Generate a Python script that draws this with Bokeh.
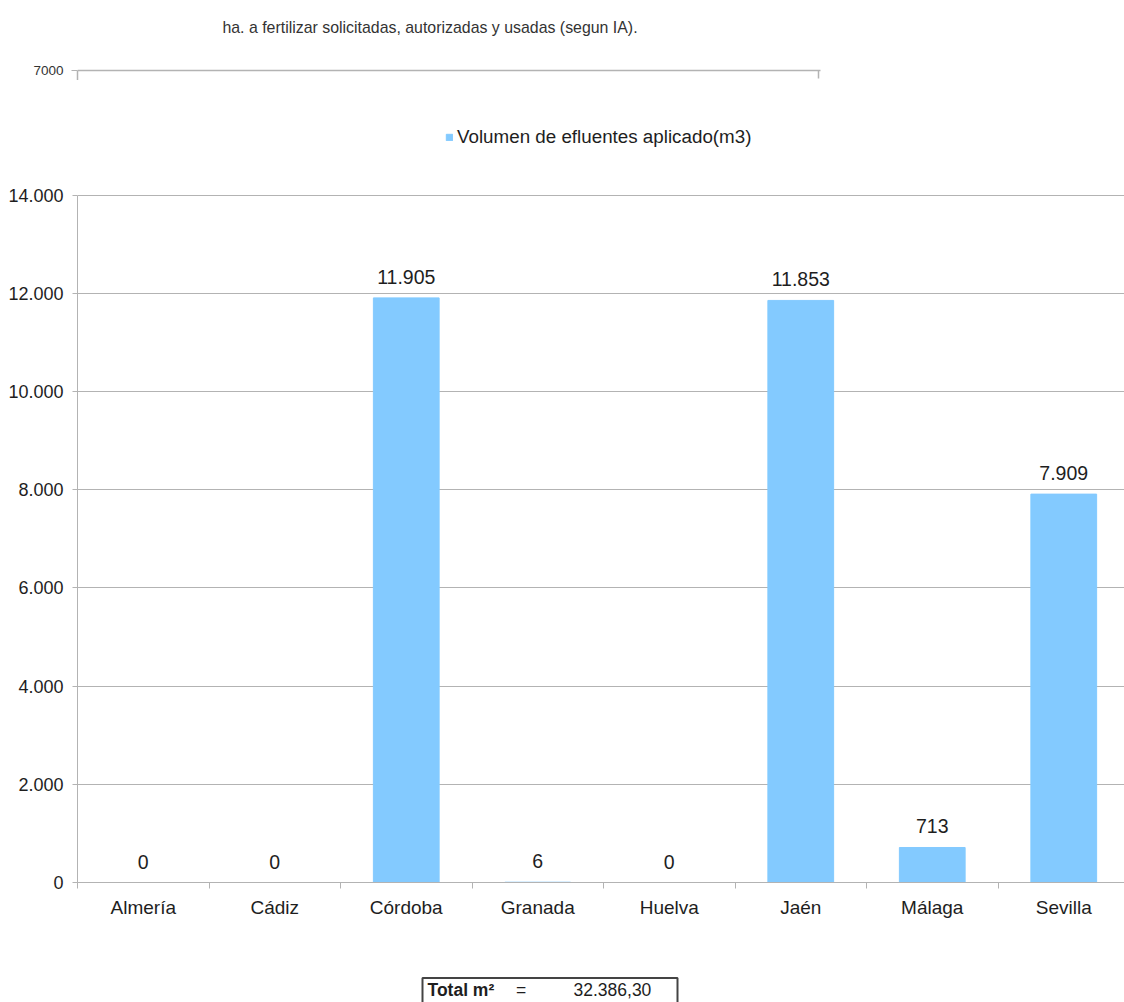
import numpy as np
from bokeh.plotting import figure
from bokeh.layouts import column
from bokeh.models import (ColumnDataSource, Range1d, FixedTicker, Legend, LegendItem)
from bokeh.core.properties import value
from bokeh.embed import file_html
from bokeh.resources import INLINE

# ---------------- data ----------------
categories = ["Almería", "Cádiz", "Córdoba", "Granada", "Huelva", "Jaén", "Málaga", "Sevilla"]
volumes = [0, 0, 11905, 6, 0, 11853, 713, 7909]
series_name = "Volumen de efluentes aplicado(m3)"
y_ticks = [0, 2000, 4000, 6000, 8000, 10000, 12000, 14000]
total_m3 = 32386.30
top_title = "ha. a fertilizar solicitadas, autorizadas y usadas (segun IA)."
top_tick = 7000

FONT = "Liberation Sans"
BAR = "#83caff"
GRID = "#b3b3b3"
TXT = "#1e1e1e"


def es_int(v):
    return f"{int(round(v)):,}".replace(",", ".")


def es_dec(v):
    s = f"{v:,.2f}"
    return s.replace(",", "X").replace(".", ",").replace("X", ".")


W = 1124
LEFT = 77          # left edge of every plotting frame (borders are aligned in the column)

# ---------------- top fragment (page px mapped 1:1 horizontally) ----------------
H1 = 80
PX = 100           # data units per pixel in the fragment
top = figure(width=W, height=H1, x_range=Range1d(LEFT, W),
             y_range=Range1d(top_tick - (H1 - 70) * PX, top_tick + 70 * PX),
             x_axis_location=None, y_axis_location="left",
             output_backend="svg", toolbar_location=None)
top.grid.visible = False
top.outline_line_color = None
top.min_border_top = 0
top.min_border_bottom = 0
top.min_border_right = 0
top.yaxis.ticker = FixedTicker(ticks=[top_tick])
top.yaxis.bounds = (top_tick - (H1 - 70) * PX, top_tick)
top.yaxis.axis_line_color = GRID
top.yaxis.axis_line_width = 1.5
top.yaxis.major_tick_line_color = GRID
top.yaxis.major_tick_out = 6
top.yaxis.major_tick_in = 0
top.yaxis.minor_tick_line_color = None
top.yaxis.major_label_standoff = 8
top.yaxis.major_label_text_font = FONT
top.yaxis.major_label_text_font_size = "13.5px"
top.yaxis.major_label_text_color = "#333333"
top.text(x=[429.5], y=[top_tick + (70 - 27) * PX], text=[top_title], text_font=value(FONT),
         text_font_size="15.9px", text_color="#333333", text_align="center", text_baseline="middle")
top.segment(x0=[LEFT, 818], y0=[top_tick, top_tick], x1=[820, 818], y1=[top_tick, top_tick - 8 * PX],
            line_color=GRID, line_width=1.5)

# ---------------- main chart ----------------
H2 = 885
BOTTOM_BORDER = 83
frame_h = H2 - BOTTOM_BORDER
px_per_unit = 687.5 / 14000
x = np.arange(len(categories)) + 0.5
src = ColumnDataSource(dict(x=x, v=volumes, lab=[es_int(v) for v in volumes]))

frame_w = W - LEFT
cat_w = 131.5
p = figure(width=W, height=H2, x_range=Range1d(0, frame_w / cat_w),
           y_range=Range1d(0, frame_h / px_per_unit),
           output_backend="svg", toolbar_location=None,
           min_border_left=LEFT, min_border_right=0, min_border_top=0,
           min_border_bottom=BOTTOM_BORDER)
p.outline_line_color = None
p.background_fill_color = "white"
p.border_fill_color = "white"

r = p.vbar(x="x", top="v", width=0.5, source=src, fill_color=BAR, line_color=BAR)
p.text(x="x", y="v", text="lab", source=src, text_font=value(FONT), text_font_size="19.5px",
       text_color=TXT, text_align="center", text_baseline="bottom", y_offset=-14)

# y axis
p.yaxis.ticker = FixedTicker(ticks=y_ticks)
p.yaxis.bounds = (y_ticks[0], y_ticks[-1])
p.yaxis.major_label_overrides = {t: es_int(t) for t in y_ticks}
p.yaxis.axis_line_color = GRID
p.yaxis.major_tick_line_color = GRID
p.yaxis.major_tick_out = 5
p.yaxis.major_tick_in = 0
p.yaxis.minor_tick_line_color = None
p.yaxis.major_label_standoff = 9
p.yaxis.major_label_text_font = FONT
p.yaxis.major_label_text_font_size = "18px"
p.yaxis.major_label_text_color = TXT

# x axis: labels at category centres, ticks at category boundaries
p.xaxis.ticker = FixedTicker(ticks=list(x), minor_ticks=list(range(len(categories) + 1)))
p.xaxis.major_label_overrides = {float(xx): c for xx, c in zip(x, categories)}
p.xaxis.axis_line_color = GRID
p.xaxis.major_tick_line_color = None
p.xaxis.major_tick_out = 0
p.xaxis.major_tick_in = 0
p.xaxis.minor_tick_line_color = GRID
p.xaxis.minor_tick_out = 6
p.xaxis.minor_tick_in = 0
p.xaxis.major_label_standoff = 8
p.xaxis.major_label_text_font = FONT
p.xaxis.major_label_text_font_size = "19px"
p.xaxis.major_label_text_color = TXT

p.xgrid.visible = False
p.ygrid.ticker = FixedTicker(ticks=y_ticks)
p.ygrid.grid_line_color = GRID

legend = Legend(items=[LegendItem(label=series_name, renderers=[r])],
                location=(368, 734), orientation="horizontal",
                glyph_width=8, glyph_height=8, label_standoff=4, padding=0, margin=0,
                label_height=22, background_fill_alpha=0, border_line_color=None,
                label_text_font=FONT, label_text_font_size="18.8px", label_text_color=TXT)
p.add_layout(legend)

# ---------------- total box (page px mapped 1:1) ----------------
H3 = 37
bot = figure(width=W, height=H3, x_range=Range1d(LEFT, W), y_range=Range1d(1002, 1002 - H3),
             x_axis_location=None, y_axis_location=None,
             output_backend="svg", toolbar_location=None)
bot.grid.visible = False
bot.outline_line_color = None
bot.min_border = 0
bot.min_border_left = LEFT
bot.quad(left=[422], right=[677], top=[977.5], bottom=[1010], fill_color=None,
         line_color="#444444", line_width=2)
bot.text(x=[427], y=[989], text=["Total m²"], text_font=value(FONT), text_font_size="17.5px",
         text_font_style="bold", text_color=TXT, text_baseline="middle")
bot.text(x=[520.5], y=[989], text=["="], text_font=value(FONT), text_font_size="17.5px",
         text_color=TXT, text_align="center", text_baseline="middle")
bot.text(x=[573], y=[989], text=[es_dec(total_m3)], text_font=value(FONT), text_font_size="17.5px",
         text_color=TXT, text_baseline="middle")

layout = column(top, p, bot, spacing=0)
open("out.html", "w").write(file_html(layout, INLINE))
